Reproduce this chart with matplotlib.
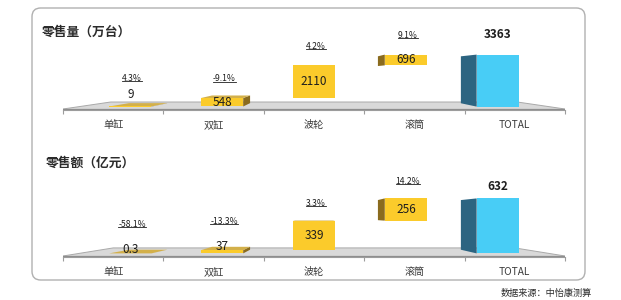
import matplotlib
matplotlib.use("Agg")
import matplotlib.pyplot as plt
from matplotlib.patches import Polygon, FancyBboxPatch
from matplotlib.lines import Line2D
import numpy as np

plt.rcParams['font.family'] = ['Noto Sans CJK SC', 'DejaVu Sans']

# ---- data -------------------------------------------------------------
categories = ['单缸', '双缸', '波轮', '滚筒', 'TOTAL']
volume_values = [9, 548, 2110, 696]          # 万台
volume_total = 3363
volume_growth = ['4.3%', '-9.1%', '4.2%', '9.1%']
sales_values = [0.3, 37, 339, 256]           # 亿元
sales_total = 632
sales_growth = ['-58.1%', '-13.3%', '3.3%', '14.2%']
volume_title = '零售量（万台）'
sales_title = '零售额（亿元）'
source_note = '数据来源：中怡康测算'

# ---- figure -------------------------------------------------------------
W, H = 621, 300
fig = plt.figure(figsize=(W / 100, H / 100), dpi=100)


def fx(px):
    return px / W


def fy(py):
    return 1 - py / H


# rounded card behind both panels
card = FancyBboxPatch((fx(32), fy(280)), fx(585) - fx(32), fy(8) - fy(280),
                      boxstyle="round,pad=0,rounding_size=0.014",
                      mutation_aspect=W / H,
                      transform=fig.transFigure, facecolor='white',
                      edgecolor='#B0B0B0', linewidth=1.0, zorder=0)
fig.add_artist(card)

YELLOW = dict(front='#FBCB2B', side='#8A6B1E', top='#D3B04A')
BLUE = dict(front='#48CDF6', side='#2C6481', top='#8ADDF5')

pct_texts = []


def toward(p, vp, f):
    return (p[0] + (vp[0] - p[0]) * f, p[1] + (vp[1] - p[1]) * f)


def draw_panel(ax, values, total, growth, title, title_xy, params):
    n = len(categories)
    px_h = params['px_height']
    ppu = params['total_px'] / total          # pixels per data unit
    base_px = params['base_px']               # baseline above axis line
    ymin = -base_px / ppu
    ymax = ymin + px_h / ppu
    ax.set_xlim(-0.5, n - 0.5)
    ax.set_ylim(ymin, ymax)
    ax.set_facecolor('none')
    for s in ('left', 'right', 'top'):
        ax.spines[s].set_visible(False)
    ax.spines['bottom'].set_color('#9C9C9C')
    ax.spines['bottom'].set_linewidth(0.8)
    ax.set_yticks([])
    ax.set_xticks(np.arange(n + 1) - 0.5)
    ax.set_xticklabels([''] * (n + 1))
    ax.tick_params(axis='x', which='major', length=3, color='#9C9C9C', width=0.8)
    ax.set_xticks(np.arange(n), minor=True)
    ax.set_xticklabels(categories, minor=True, fontsize=7.3, color='#3A3A3A')
    ax.tick_params(axis='x', which='minor', length=0, pad=7.5)

    vp = (2.0, ymin + params['vp_frac'] * (ymax - ymin))

    # perspective floor plate
    yf = ymin + 1.0 / ppu
    FL, FR = (-0.5, yf), (n - 0.5, yf)
    BL, BR = toward(FL, vp, params['floor_f']), toward(FR, vp, params['floor_f'])
    ax.add_patch(Polygon([FL, FR, BR, BL], closed=True, facecolor='#D9D9D9',
                         edgecolor='none', zorder=1))
    ax.plot([FL[0], BL[0], BR[0], FR[0]], [FL[1], BL[1], BR[1], FR[1]],
            color='#A9A9A9', lw=0.7, zorder=1.5)
    ax.plot([FL[0], FR[0]], [FL[1], FR[1]], color='#8E8E8E', lw=0.9, zorder=1.5)

    # waterfall bars
    heights = list(values) + [total]
    bottoms = list(np.concatenate([[0], np.cumsum(values)[:-1]])) + [0]
    f = params['bar_f']
    w = 0.42
    for i, (h, b) in enumerate(zip(heights, bottoms)):
        col = BLUE if i == n - 1 else YELLOW
        xc = i + (2 - i) * 0.085
        xl, xr = xc - w / 2, xc + w / 2
        yb, yt = b, b + h
        # side face
        if xc > vp[0] + 1e-9:
            e = [(xl, yb), (xl, yt), toward((xl, yt), vp, f), toward((xl, yb), vp, f)]
            ax.add_patch(Polygon(e, closed=True, facecolor=col['side'],
                                 edgecolor='none', zorder=2))
        elif xc < vp[0] - 1e-9:
            e = [(xr, yb), (xr, yt), toward((xr, yt), vp, f), toward((xr, yb), vp, f)]
            ax.add_patch(Polygon(e, closed=True, facecolor=col['side'],
                                 edgecolor='none', zorder=2))
        # top face when the box sits below eye level
        if yt < vp[1]:
            e = [(xl, yt), (xr, yt), toward((xr, yt), vp, f), toward((xl, yt), vp, f)]
            ax.add_patch(Polygon(e, closed=True, facecolor=col['top'],
                                 edgecolor='none', zorder=2))
        ax.bar(xc, h, bottom=b, width=w, color=col['front'], zorder=3)

        bar_px = h * ppu
        if i == n - 1:
            ax.annotate(f'{total:g}', (xc, yt), xytext=(0, params['total_gap']),
                        textcoords='offset pixels', ha='center', va='center',
                        fontsize=8.5, fontweight='bold', color='#1E1E1E', zorder=5)
            continue
        if bar_px >= 6:
            ax.annotate(f'{h:g}', (xc, b + h / 2), xytext=(0, 0),
                        textcoords='offset pixels', ha='center', va='center',
                        fontsize=8.5, color='#1E1E1E', zorder=5)
            pct_off = params['pct_gap']
        else:
            ax.annotate(f'{h:g}', (xc, yt), xytext=(0, params['small_gap']),
                        textcoords='offset pixels', ha='center', va='center',
                        fontsize=8.5, color='#1E1E1E', zorder=5)
            pct_off = params['small_gap'] + params['small_pct']
        t = ax.annotate(growth[i], (xc, yt), xytext=(2, pct_off),
                        textcoords='offset pixels', ha='center', va='center',
                        fontsize=6.2, color='#1E1E1E', zorder=5)
        pct_texts.append(t)

    fig.text(fx(title_xy[0]), fy(title_xy[1]), title, fontsize=9.2,
             fontweight='bold', color='#2B2B2B', ha='left', va='center')


# top panel: axis line at y=110 px, top at 20 px
ax1 = fig.add_axes([fx(63), fy(110), fx(565) - fx(63), fy(20) - fy(110)])
draw_panel(ax1, volume_values, volume_total, volume_growth, volume_title, (42, 32),
           dict(px_height=90, total_px=52, base_px=3.4, vp_frac=0.42,
                floor_f=0.19, bar_f=0.097, small_gap=12, small_pct=16,
                pct_gap=19, total_gap=20))

# bottom panel: axis line at y=257 px, top at 165 px
ax2 = fig.add_axes([fx(63), fy(257), fx(565) - fx(63), fy(165) - fy(257)])
draw_panel(ax2, sales_values, sales_total, sales_growth, sales_title, (46, 163),
           dict(px_height=92, total_px=55, base_px=3.6, vp_frac=0.45,
                floor_f=0.2, bar_f=0.097, small_gap=4, small_pct=25,
                pct_gap=17, total_gap=12))

fig.text(fx(592), fy(293), source_note, fontsize=6.6, color='#2B2B2B',
         ha='right', va='center')

# underline the growth labels
fig.canvas.draw()
renderer = fig.canvas.get_renderer()
inv = fig.transFigure.inverted()
for t in pct_texts:
    bb = t.get_window_extent(renderer)
    (x0, y0), (x1, y1) = inv.transform([(bb.x0, bb.y0 + 1.8), (bb.x1, bb.y1)])
    fig.add_artist(Line2D([x0, x1], [y0, y0], transform=fig.transFigure,
                          color='#1E1E1E', lw=0.6))

fig.savefig('out.png', dpi=100)
